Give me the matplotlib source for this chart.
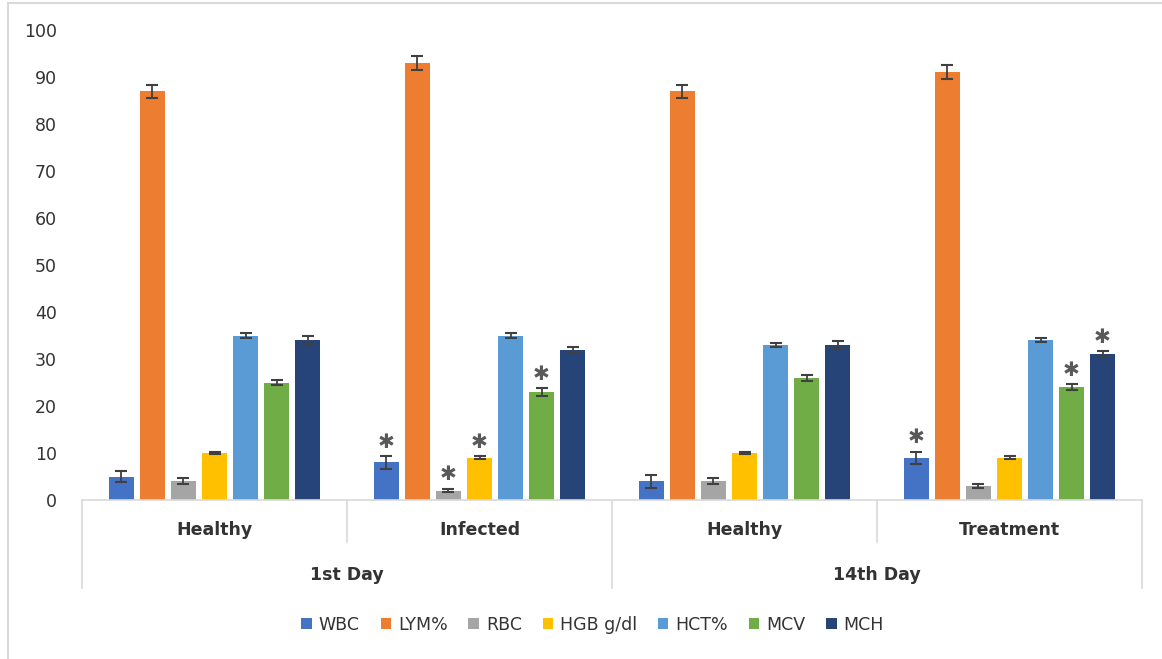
import matplotlib.pyplot as plt
import numpy as np
from matplotlib.patches import Rectangle

# data
groups = ["Healthy", "Infected", "Healthy", "Treatment"]
days = ["1st Day", "14th Day"]
series = ["WBC", "LYM%", "RBC", "HGB g/dl", "HCT%", "MCV", "MCH"]
colors = ["#4472C4", "#ED7D31", "#A5A5A5", "#FFC000", "#5B9BD5", "#70AD47", "#264478"]

wbc = [5, 8, 4, 9]
lym = [87, 93, 87, 91]
rbc = [4, 2, 4, 3]
hgb = [10, 9, 10, 9]
hct = [35, 35, 33, 34]
mcv = [25, 23, 26, 24]
mch = [34, 32, 33, 31]

wbc_err = [1.1, 1.3, 1.4, 1.3]
lym_err = [1.4, 1.5, 1.4, 1.5]
rbc_err = [0.6, 0.4, 0.6, 0.5]
hgb_err = [0.3, 0.3, 0.3, 0.3]
hct_err = [0.5, 0.5, 0.4, 0.4]
mcv_err = [0.6, 0.8, 0.6, 0.6]
mch_err = [0.8, 0.5, 0.8, 0.6]

# significance marks: (group index, series index)
stars = [(1, 0), (1, 2), (1, 3), (1, 5), (3, 0), (3, 5), (3, 6)]

values = [wbc, lym, rbc, hgb, hct, mcv, mch]
errors = [wbc_err, lym_err, rbc_err, hgb_err, hct_err, mcv_err, mch_err]

fig = plt.figure(figsize=(11.62, 6.59), dpi=100)
ax = fig.add_axes([82 / 1162, 1 - 500 / 659, 1060 / 1162, 470 / 659])

x = np.arange(len(groups))
pitch = 0.117
width = 0.094
for i, (name, vals, errs, c) in enumerate(zip(series, values, errors, colors)):
    pos = x + (i - 3) * pitch
    ax.bar(pos, vals, width, color=c, label=name, zorder=2)
    ax.errorbar(pos, vals, yerr=errs, fmt="none", ecolor="#404040",
                elinewidth=1.3, capsize=4, capthick=1.5, zorder=3)

for g, s in stars:
    top = values[s][g] + errors[s][g]
    ax.annotate("\u2731", (x[g] + (s - 3) * pitch, top), xytext=(0, 10),
                textcoords="offset points", ha="center", va="center",
                fontsize=14.5, color="#595959")

ax.set_xlim(-0.5, 3.5)
ax.set_ylim(0, 100)
ax.set_yticks(range(0, 101, 10))
ax.tick_params(axis="y", length=0, pad=18, labelsize=12.5, labelcolor="#333333")
ax.set_xticks([])
for sp in ["top", "right", "left"]:
    ax.spines[sp].set_visible(False)
ax.spines["bottom"].set_color("#D9D9D9")
ax.spines["bottom"].set_linewidth(1.2)

# multi-level category axis
tr = ax.get_xaxis_transform()
sep_kw = dict(color="#D9D9D9", lw=1.2, transform=tr, clip_on=False)
for xs in [0.5, 2.5]:
    ax.plot([xs, xs], [0, -0.089], **sep_kw)
for xs in [-0.5, 1.5, 3.5]:
    ax.plot([xs, xs], [0, -0.187], **sep_kw)
for xi, g in zip(x, groups):
    ax.text(xi, -0.064, g, transform=tr, ha="center", va="center",
            fontsize=12.5, fontweight="bold", color="#333333")
for xi, d in zip([0.5, 2.5], days):
    ax.text(xi, -0.16, d, transform=tr, ha="center", va="center",
            fontsize=12.5, fontweight="bold", color="#333333")

leg = fig.legend(loc="center", bbox_to_anchor=(0.51, 1 - 625 / 659), ncol=7,
                 frameon=False, fontsize=12.5, handlelength=0.6, handleheight=0.6,
                 handletextpad=0.4, columnspacing=1.2)
for t in leg.get_texts():
    t.set_color("#333333")

# light frame around chart area (top and left edges visible)
fig.patches.append(Rectangle((8 / 1162, -0.01), 1.2, 1 - 3 / 659 + 0.01,
                             transform=fig.transFigure, fill=False,
                             edgecolor="#D9D9D9", lw=1.5))

fig.savefig("out.png", dpi=100)
